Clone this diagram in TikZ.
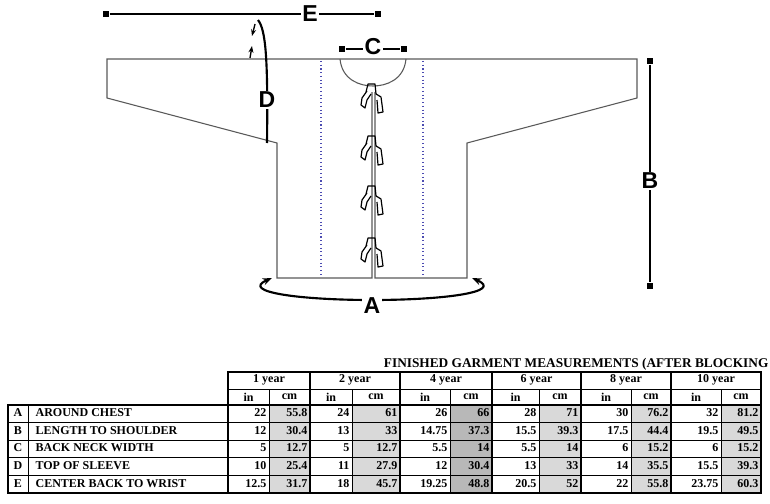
\documentclass[tikz,border=0pt]{standalone}
\usepackage{fontspec}
\setmainfont{Liberation Serif}
\newfontfamily\labelfont{Liberation Sans}
\usetikzlibrary{arrows.meta}
\definecolor{cellgray}{gray}{0.85}
\definecolor{darkcell}{gray}{0.72}
\tikzset{
  outline/.style={gray!70!black, line width=0.8pt},
  measure/.style={line width=1.6pt},
  endbox/.style={fill=black, minimum size=5pt, inner sep=0pt},
  letter/.style={font=\labelfont\bfseries\LARGE, fill=white, inner sep=1pt},
  cell/.style={font=\bfseries\small, inner sep=1pt},
  toggle/.style={line width=0.9pt, line join=round}
}
\begin{document}
\begin{tikzpicture}[x=0.75pt, y=-0.75pt]
  \useasboundingbox (0,0) rectangle (770,503);

  % Garment outline
  \draw[outline] (372,92) -- (372,278) -- (277,278) -- (277,143)
    -- (107,98) -- (107,59) -- (637,59) -- (637,98) -- (467,143) -- (467,278)
    -- (375,278) -- (375,92);
  \draw[outline] (340,59) .. controls (342,80) and (360,86) .. (373,86)
    .. controls (386,86) and (404,80) .. (406,59);
  \draw[blue!40!gray, dotted, thick] (321,61) -- (321,276) (423,61) -- (423,276);

  % Toggles
  \foreach \ty in {88,140,190,242}{
    \draw[toggle] (366,\ty+4) -- (368,\ty-4) -- (375,\ty-4) -- (376,\ty+6)
      (367,\ty+3) -- (362,\ty+10) -- (361,\ty+17) -- (365,\ty+20) -- (367,\ty+12) -- (371,\ty+6)
      (376,\ty+6) -- (381,\ty+9) -- (383,\ty+24) -- (378,\ty+25) -- (377,\ty+12);
  }

  % Measurement E
  \node[endbox] (e1) at (106,14) {};
  \node[endbox] (e2) at (378,14) {};
  \draw[measure] (e1) -- (e2);
  \node[letter] (elbl) at (310,14) {E};

  % Measurement C
  \node[endbox] (c1) at (342,49) {};
  \node[endbox] (c2) at (404,49) {};
  \draw[measure] (c1) -- (c2);
  \node[letter] (clbl) at (373,47) {C};

  % Measurement B
  \node[endbox] (b1) at (650,61) {};
  \node[endbox] (b2) at (650,286) {};
  \draw[measure] (b1) -- (b2);
  \node[letter] (blbl) at (650,181) {B};

  % Measurement D
  \coordinate (d1) at (267,143);
  \draw[measure] (d1) .. controls (268,60) and (266,30) .. (258,20);
  \draw[line width=1pt, -{Stealth[length=5pt]}] (255,24) -- (252,36);
  \draw[line width=1pt, -{Stealth[length=5pt]}] (250,58) -- (252,46);
  \node[letter] (dlbl) at (267,100) {D};

  % Measurement A
  \draw[measure, {Stealth[length=7pt]}-{Stealth[length=7pt]}] (272,278)
    .. controls (240,292) and (300,300) .. (372,300)
    .. controls (444,300) and (504,292) .. (472,278);
  \node[letter] (albl) at (372,306) {A};

  % Table title
  \node[font=\bfseries, anchor=east, inner sep=1pt] (title) at (770,364) {FINISHED GARMENT MEASUREMENTS (AFTER BLOCKING};

  % Table shading
  \foreach \xa/\xb/\sh in {269/310/cellgray,352/400/cellgray,450/492/darkcell,539/581/cellgray,631/671/cellgray,721/761/cellgray}
    \fill[\sh] (\xa,405) rectangle (\xb,493);

  % Table grid
  \draw[line width=0.8pt] (228,372) rectangle (761,493);
  \draw[line width=0.8pt] (8,405) rectangle (761,493);
  \draw (28,405) -- (28,493);
  \foreach \yy in {389,422,440,457,475} \draw (228,\yy) -- (761,\yy);
  \foreach \yy in {422,440,457,475} \draw (8,\yy) -- (228,\yy);
  \foreach \xx in {310,400,492,581,671} \draw[line width=0.8pt] (\xx,372) -- (\xx,493);
  \foreach \xx in {269,352,450,539,631,721} \draw (\xx,389) -- (\xx,493);

  % Header
  \foreach \xa/\xb/\yr in {228/310/1 year,310/400/2 year,400/492/4 year,492/581/6 year,581/671/8 year,671/761/10 year}{
    \node[cell] at ({(\xa+\xb)/2},380) {\yr};
  }
  \foreach \xa/\xb/\xc in {228/269/310,310/352/400,400/450/492,492/539/581,581/631/671,671/721/761}{
    \node[cell] at ({(\xa+\xb)/2},397) {in};
    \node[cell] at ({(\xb+\xc)/2},397) {cm};
  }

  % Rows
  \foreach \yy/\lt/\lbl/\vals in {
      413/A/AROUND CHEST/{22,55.8,24,61,26,66,28,71,30,76.2,32,81.2},
      431/B/LENGTH TO SHOULDER/{12,30.4,13,33,14.75,37.3,15.5,39.3,17.5,44.4,19.5,49.5},
      448/C/BACK NECK WIDTH/{5,12.7,5,12.7,5.5,14,5.5,14,6,15.2,6,15.2},
      466/D/TOP OF SLEEVE/{10,25.4,11,27.9,12,30.4,13,33,14,35.5,15.5,39.3},
      484/E/CENTER BACK TO WRIST/{12.5,31.7,18,45.7,19.25,48.8,20.5,52,22,55.8,23.75,60.3}}{
    \node[cell] at (18,\yy) {\lt};
    \node[cell, anchor=west] at (34,\yy) {\lbl};
    \foreach \v [count=\i] in \vals {
      \pgfmathsetmacro{\xr}{{0,269,310,352,400,450,492,539,581,631,671,721,761}[\i]}
      \node[cell, anchor=east] at (\xr-1,\yy) {\v};
    }
  }
\end{tikzpicture}
\end{document}
